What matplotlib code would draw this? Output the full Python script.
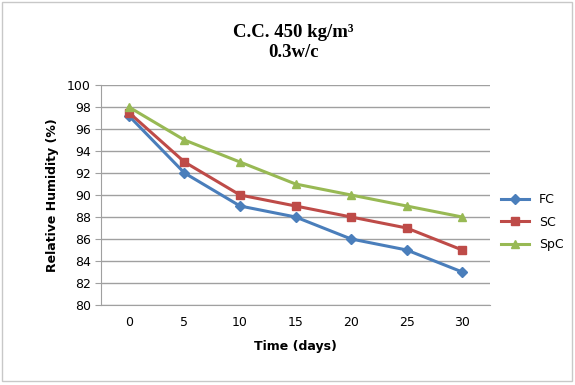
import matplotlib.pyplot as plt
from matplotlib.patches import Rectangle

# data
days = ["0", "5", "10", "15", "20", "25", "30"]
fc = [97.2, 92, 89, 88, 86, 85, 83]
sc = [97.5, 93, 90, 89, 88, 87, 85]
spc = [98, 95, 93, 91, 90, 89, 88]

fig = plt.figure(figsize=(5.75, 3.85), dpi=100)
fig.patches.append(Rectangle((0.004, 0.01), 0.99, 0.985, transform=fig.transFigure,
                             fill=False, edgecolor="#c8c8c8", linewidth=1))
ax = fig.add_axes([0.176, 0.208, 0.676, 0.571])

x = range(len(days))
ax.plot(x, fc, color="#4a7ebb", marker="D", markersize=5, linewidth=2.2, label="FC")
ax.plot(x, sc, color="#be4b48", marker="s", markersize=6, linewidth=2.2, label="SC")
ax.plot(x, spc, color="#98b954", marker="^", markersize=6, linewidth=2.2, label="SpC")

ax.set_xlim(-0.5, 6.5)
ax.set_ylim(80, 100)
ax.set_yticks(range(80, 101, 2))
ax.set_xticks(list(x))
ax.set_xticklabels(days)
ax.grid(axis="y", color="#a0a0a0", linewidth=1)
ax.set_axisbelow(True)
for s in ["top", "right"]:
    ax.spines[s].set_visible(False)
ax.spines["left"].set_color("#a0a0a0")
ax.spines["bottom"].set_color("#a0a0a0")
ax.tick_params(axis="y", length=4, color="#a0a0a0", labelsize=9)
ax.tick_params(axis="x", length=0, labelsize=9, pad=8)

ax.set_xlabel("Time (days)", fontsize=9, fontweight="bold", labelpad=8)
ax.set_ylabel("Relative Humidity (%)", fontsize=9, fontweight="bold", labelpad=6)

fig.text(0.51, 0.916, "C.C. 450 kg/m³", ha="center", va="center",
         family="Liberation Serif", fontweight="bold", fontsize=13.5)
fig.text(0.51, 0.863, "0.3w/c", ha="center", va="center",
         family="Liberation Serif", fontweight="bold", fontsize=13.5)

ax.legend(loc="center left", bbox_to_anchor=(1.0, 0.377), frameon=False,
          fontsize=9, handlelength=2.2, labelspacing=0.75)

fig.savefig("out.png", dpi=100)
